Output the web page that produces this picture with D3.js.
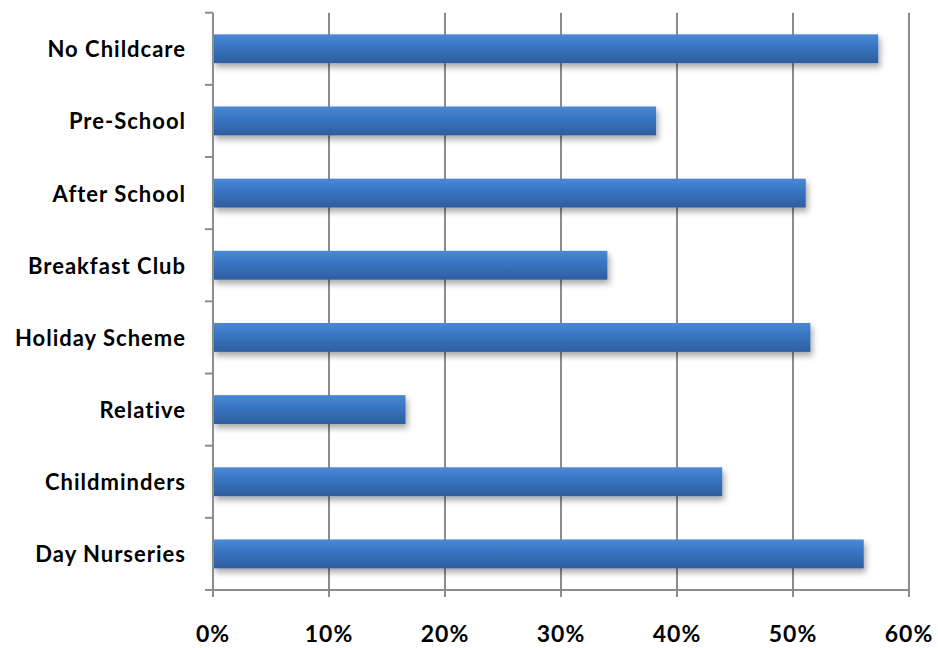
<!DOCTYPE html>
<html>
<head>
<meta charset="utf-8">
<script src="https://cdn.jsdelivr.net/npm/d3@7"></script>
<style>
html,body{margin:0;padding:0;background:#fff;}
svg{display:block;}
text{font-family:Lato,"Open Sans",sans-serif;font-weight:bold;fill:#000;}
</style>
</head>
<body>
<script>
const categories = ["No Childcare","Pre-School","After School","Breakfast Club","Holiday Scheme","Relative","Childminders","Day Nurseries"];
const values = [57.35, 38.2, 51.1, 34.0, 51.5, 16.6, 43.9, 56.1];
const xTicks = [0,10,20,30,40,50,60];
const xTickLabels = ["0%","10%","20%","30%","40%","50%","60%"];

const W = 938, H = 648;
const margin = {left:213, right:29, top:12.7, bottom:58};
const svg = d3.select("body").append("svg").attr("width",W).attr("height",H);

const defs = svg.append("defs");
const grad = defs.append("linearGradient").attr("id","barGrad").attr("x1",0).attr("y1",0).attr("x2",0).attr("y2",1);
grad.append("stop").attr("offset","0%").attr("stop-color","#4b88d6");
grad.append("stop").attr("offset","35%").attr("stop-color","#3b78c6");
grad.append("stop").attr("offset","100%").attr("stop-color","#2d5e9f");
const filt = defs.append("filter").attr("id","shadow").attr("x","-10%").attr("y","-30%").attr("width","130%").attr("height","190%");
filt.append("feDropShadow").attr("dx",2).attr("dy",4).attr("stdDeviation",3).attr("flood-color","#000").attr("flood-opacity",0.35);

const x = d3.scaleLinear().domain([0,60]).range([margin.left, W - margin.right]);
const y = d3.scaleBand().domain(categories).range([margin.top, H - margin.bottom]).paddingInner(0.6).paddingOuter(0.3);
const yb = d3.scaleLinear().domain([0,categories.length]).range([margin.top, H - margin.bottom]);

const gridColor = "#8c8c8c";
// gridlines
svg.append("g").selectAll("line").data(xTicks.slice(1)).join("line")
  .attr("x1",d=>x(d)).attr("x2",d=>x(d))
  .attr("y1",margin.top).attr("y2",H - margin.bottom + 7)
  .attr("stroke",gridColor).attr("stroke-width",2);

// bars
svg.append("g").selectAll("rect").data(categories).join("rect")
  .attr("x",x(0)).attr("y",d=>y(d))
  .attr("width",(d,i)=>x(values[i]) - x(0))
  .attr("height",y.bandwidth())
  .attr("fill","url(#barGrad)")
  .attr("filter","url(#shadow)");

// left axis line & ticks
svg.append("line").attr("x1",x(0)).attr("x2",x(0)).attr("y1",margin.top).attr("y2",H - margin.bottom + 7)
  .attr("stroke",gridColor).attr("stroke-width",2);
svg.append("g").selectAll("line").data(d3.range(categories.length+1)).join("line")
  .attr("x1",x(0)-8).attr("x2",x(0)).attr("y1",d=>yb(d)).attr("y2",d=>yb(d))
  .attr("stroke",gridColor).attr("stroke-width",2);
// bottom axis
svg.append("line").attr("x1",x(0)-8).attr("x2",x(60)).attr("y1",H - margin.bottom).attr("y2",H - margin.bottom)
  .attr("stroke",gridColor).attr("stroke-width",2);

// category labels
svg.append("g").selectAll("text").data(categories).join("text")
  .attr("x",186).attr("y",d=>y(d)+y.bandwidth()/2)
  .attr("text-anchor","end").attr("dominant-baseline","central")
  .attr("font-size",22).attr("letter-spacing",1).text(d=>d);

// x tick labels
svg.append("g").selectAll("text").data(xTicks).join("text")
  .attr("x",d=>x(d)).attr("y",642)
  .attr("text-anchor","middle")
  .attr("font-size",23).attr("letter-spacing",1).text((d,i)=>xTickLabels[i]);
</script>
</body>
</html>
